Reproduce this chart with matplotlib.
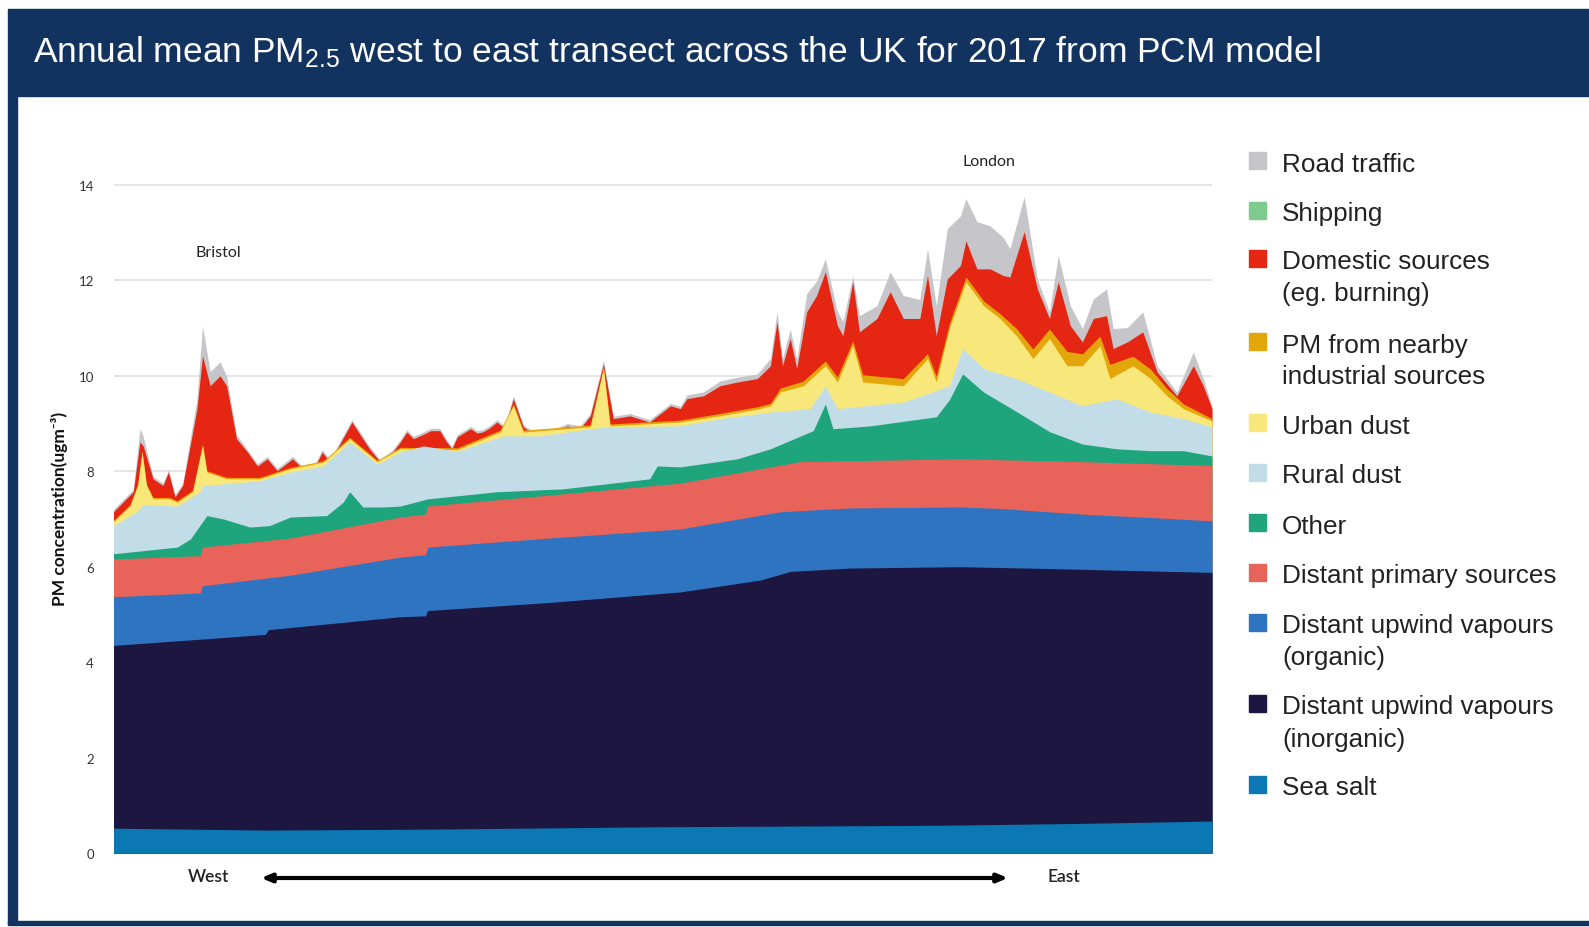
import matplotlib.pyplot as plt
import numpy as np
from matplotlib.patches import Rectangle

plt.rcParams['mathtext.fontset'] = 'custom'
plt.rcParams['mathtext.rm'] = 'Liberation Sans'
plt.rcParams['mathtext.it'] = 'Liberation Sans:italic'
plt.rcParams['mathtext.bf'] = 'Liberation Sans:bold'

# position along the west-east transect (%), and top of each stacked band (ugm-3)
domestic_x = [0, 1.8, 2.4, 2.7, 3.6, 4.5, 5.0, 5.6, 6.3, 7.6, 8.1, 8.8, 9.7, 10.3, 11.2, 12.2, 13.1, 14.0,
              14.9, 16.3, 17.9, 19.0, 19.7, 21.7, 23.3, 24.3, 25.4, 26.1,
              26.7, 27.3, 28.0, 28.9, 29.7, 30.3, 30.8, 31.3, 32.5, 33.1, 33.6, 34.2, 34.9, 35.6, 36.4,
              37.3, 38.1, 38.8, 39.7, 41.3, 42.5, 43.4, 44.6, 45.5, 47.0, 48.8, 50.7, 51.6,
              52.2, 53.7, 55.2, 56.8, 58.6, 59.8, 60.4, 60.9, 61.6, 62.2, 63.1, 64.0, 64.8, 65.9,
              66.4, 67.3, 67.9, 69.5, 70.7, 71.9, 73.4, 74.1, 74.9, 75.9, 77.1,
              77.6, 78.6, 79.8, 81.0, 81.6, 82.9, 84.1, 85.2, 86.0, 87.1, 88.2, 89.2, 90.4, 91.0,
              92.3, 93.7, 95.0, 96.8, 98.3, 99.2, 100]
domestic_top = [7.15, 7.57, 8.61, 8.53, 7.84, 7.7, 7.98, 7.46, 7.7, 9.31, 10.42, 9.79, 10.0, 9.79, 8.68, 8.4,
                8.11, 8.26, 8.01, 8.26, 7.9, 8.4, 8.19, 9.03, 8.47, 8.19, 8.4, 8.61,
                8.82, 8.68, 8.75, 8.85, 8.85, 8.62, 8.47, 8.72, 8.89, 8.8, 8.82, 8.9, 9.03, 8.9, 9.52,
                8.93, 8.8, 8.74, 8.8, 8.95, 8.9, 9.16, 10.25, 9.1, 9.16, 9.03, 9.37, 9.31,
                9.52, 9.58, 9.79, 9.87, 9.94, 10.21, 11.13, 10.21, 10.78, 10.15, 11.34, 11.68, 12.18,
                11.05, 10.84, 11.97, 10.92, 11.2, 11.76, 11.2, 11.2, 12.1, 10.84, 12.03, 12.31,
                12.83, 12.24, 12.24, 12.1, 12.07, 13.02, 11.82, 11.2, 11.97, 11.05, 10.71, 11.2, 11.26,
                10.57, 10.71, 10.92, 10.08, 9.58, 10.21, 9.79, 9.31]
# road traffic thickness on top of domestic sources (same x)
road_traffic = [0.05, 0.05, 0.28, 0.2, 0.05, 0.05, 0.05, 0.05, 0.05, 0.2, 0.63, 0.3, 0.29, 0.2, 0.08, 0.05,
                0.05, 0.05, 0.05, 0.05, 0.05, 0.05, 0.05, 0.05, 0.05, 0.05, 0.05, 0.05,
                0.05, 0.05, 0.05, 0.05, 0.05, 0.05, 0.05, 0.05, 0.05, 0.05, 0.05, 0.05, 0.05, 0.05, 0.06,
                0.05, 0.05, 0.05, 0.05, 0.05, 0.05, 0.05, 0.08, 0.05, 0.05, 0.05, 0.05, 0.05,
                0.08, 0.08, 0.1, 0.1, 0.1, 0.15, 0.21, 0.15, 0.2, 0.2, 0.38, 0.3, 0.27, 0.29, 0.3,
                0.13, 0.34, 0.27, 0.42, 0.48, 0.4, 0.56, 0.63, 1.05, 1.04,
                0.88, 0.99, 0.9, 0.8, 0.59, 0.73, 0.21, 0.14, 0.55, 0.42, 0.28, 0.41, 0.56, 0.42,
                0.3, 0.42, 0.13, 0.08, 0.29, 0.15, 0.06]

urban_x = [0, 1.5, 2.2, 2.6, 3.0, 3.6, 5.1, 5.8, 7.2, 8.1, 8.5, 10.3, 13.3, 16.1, 19.1, 21.5, 24.0, 26.1,
           31.3, 35.2, 36.4, 37.3, 43.4, 44.6, 45.2, 51.6,
           55.2, 58.6, 59.8, 60.7, 62.8, 64.8, 65.9, 67.3, 68.2, 71.9, 74.1, 74.9, 76.1,
           77.6, 79.2, 80.7, 82.2, 83.7, 85.2, 86.8, 88.2, 89.8, 90.7, 92.8, 94.4, 95.9, 97.4, 100]
urban_top = [6.94, 7.27, 7.7, 8.4, 7.7, 7.42, 7.42, 7.35, 7.57, 8.54, 7.98, 7.84, 7.84, 8.05, 8.19, 8.68,
             8.2, 8.47,
             8.45, 8.82, 9.37, 8.82, 8.93, 10.15, 8.95, 9.03,
             9.16, 9.3, 9.37, 9.66, 9.79, 10.21, 9.87, 10.63, 9.87, 9.79, 10.36, 9.87, 11.0,
             11.97, 11.47, 11.2, 10.84, 10.36, 10.78, 10.21, 10.21, 10.63, 9.94, 10.21, 9.94, 9.58,
             9.31, 9.05]
# nearby industrial sources thickness on top of urban dust (same x)
industrial = [0.03, 0.03, 0.03, 0.03, 0.03, 0.03, 0.03, 0.03, 0.03, 0.03, 0.03, 0.03, 0.03, 0.03, 0.03,
              0.03, 0.03, 0.03,
              0.04, 0.04, 0.04, 0.04, 0.04, 0.04, 0.04, 0.04,
              0.05, 0.05, 0.05, 0.08, 0.1, 0.1, 0.1, 0.1, 0.15, 0.15, 0.1, 0.12, 0.1,
              0.1, 0.1, 0.1, 0.15, 0.2, 0.2, 0.3, 0.25, 0.2, 0.3, 0.2, 0.2, 0.15, 0.1, 0.05]

rural_x = [0, 2.1, 2.7, 5.8, 7.9, 8.1, 10.3, 13.3, 16.1, 19.1, 21.5, 24.0, 26.1, 28.2, 31.3, 35.5, 38.8,
           43.4, 45.2, 51.6, 55.2, 59.8, 63.4, 64.8, 65.9, 71.9, 76.1, 77.3, 79.2, 82.2, 85.2, 88.2,
           91.3, 94.4, 97.4, 100]
rural_top = [6.86, 7.15, 7.3, 7.27, 7.57, 7.7, 7.74, 7.8, 7.98, 8.11, 8.61, 8.15, 8.4, 8.53, 8.42, 8.74,
             8.74, 8.89, 8.93, 8.95, 9.1, 9.24, 9.31, 9.79, 9.31, 9.45, 9.79, 10.57, 10.15, 9.94, 9.66,
             9.37, 9.52, 9.24, 9.1, 8.93]

other_x = [0, 5.8, 7.0, 8.5, 10.0, 12.4, 14.2, 16.1, 19.4, 20.9, 21.5, 22.7, 24.5, 26.1, 28.6, 34.9,
           40.9, 48.8, 49.5, 51.6, 56.8, 59.8, 63.7, 64.8, 65.5, 68.9, 74.9, 76.1, 77.3, 79.2, 82.2,
           85.2, 88.2, 91.3, 94.4, 97.4, 100]
other_top = [6.27, 6.41, 6.58, 7.07, 7.0, 6.83, 6.86, 7.04, 7.07, 7.35, 7.57, 7.25, 7.25, 7.27, 7.42,
             7.57, 7.63, 7.84, 8.11, 8.09, 8.26, 8.47, 8.85, 9.41, 8.89, 8.95, 9.14, 9.5, 10.04, 9.66,
             9.25, 8.83, 8.57, 8.47, 8.43, 8.43, 8.32]

primary_x = [0, 7.9, 8.1, 16.1, 26.1, 28.4, 28.6, 39.7, 51.6, 62.5, 77.1, 88.2, 100]
primary_top = [6.16, 6.23, 6.41, 6.6, 7.04, 7.1, 7.27, 7.5, 7.75, 8.2, 8.26, 8.2, 8.12]

organic_x = [0, 7.9, 8.1, 16.1, 26.1, 28.4, 28.6, 39.7, 51.6, 60.7, 67.0, 77.1, 80.7, 88.2, 94.4, 100]
organic_top = [5.37, 5.45, 5.6, 5.82, 6.2, 6.25, 6.41, 6.6, 6.79, 7.15, 7.23, 7.25, 7.22, 7.1, 7.03, 6.96]

inorganic_x = [0, 7.9, 13.8, 14.1, 26.1, 28.4, 28.6, 39.7, 51.6, 58.9, 61.6, 67.0, 77.1, 85.2, 94.4, 100]
inorganic_top = [4.35, 4.48, 4.58, 4.68, 4.95, 4.97, 5.08, 5.25, 5.47, 5.72, 5.9, 5.97, 6.0, 5.96, 5.91,
                 5.88]

sea_salt_x = [0, 14.0, 28.6, 50.0, 75.0, 88.0, 100]
sea_salt_top = [0.52, 0.48, 0.5, 0.55, 0.58, 0.62, 0.67]

legend_labels = ['Road traffic', 'Shipping', 'Domestic sources\n(eg. burning)',
                 'PM from nearby\nindustrial sources', 'Urban dust', 'Rural dust', 'Other',
                 'Distant primary sources', 'Distant upwind vapours\n(organic)',
                 'Distant upwind vapours\n(inorganic)', 'Sea salt']
legend_colors = ['#c6c6ca', '#7fca8f', '#e52612', '#e3a70c', '#f8e77a', '#c3dde8', '#1ea57b',
                 '#e8635a', '#2f74c0', '#1c1640', '#0b78b3']
y_ticks = [0, 2, 4, 6, 8, 10, 12, 14]

W, H = 1589, 928
NAVY = '#12335f'

fig = plt.figure(figsize=(W / 100, H / 100), dpi=100)


def fx(px):
    return px / W


def fy(py):
    return 1 - py / H


# frame: title bar, left border, bottom border
fig.patches.append(Rectangle((fx(8), fy(97)), 1 - fx(8), (97 - 10) / H, transform=fig.transFigure,
                             color=NAVY, zorder=0))
fig.patches.append(Rectangle((fx(8), fy(925)), (17 - 8) / W, (925 - 97) / H, transform=fig.transFigure,
                             color=NAVY, zorder=0))
fig.patches.append(Rectangle((fx(8), fy(926)), 1 - fx(8), 4 / H, transform=fig.transFigure,
                             color=NAVY, zorder=0))

fig.text(fx(33), fy(52), 'Annual mean PM$_{2.5}$ west to east transect across the UK for 2017 from PCM model',
         color='white', fontsize=25.5, family='Liberation Sans', va='center', ha='left')

ax = fig.add_axes([fx(113.5), fy(854), (1212 - 113.5) / W, (854 - 162) / H])

road_top = np.array(domestic_top) + np.array(road_traffic)
industrial_top = np.array(urban_top) + np.array(industrial)

bands = [
    (domestic_x, road_top, legend_colors[0]),
    (domestic_x, domestic_top, legend_colors[2]),
    (urban_x, industrial_top, legend_colors[3]),
    (urban_x, urban_top, legend_colors[4]),
    (rural_x, rural_top, legend_colors[5]),
    (other_x, other_top, legend_colors[6]),
    (primary_x, primary_top, legend_colors[7]),
    (organic_x, organic_top, legend_colors[8]),
    (inorganic_x, inorganic_top, legend_colors[9]),
    (sea_salt_x, sea_salt_top, legend_colors[10]),
]
for i, (x, top, c) in enumerate(bands):
    ax.fill_between(x, 0, top, color=c, lw=0, zorder=2 + i)

ax.set_xlim(0, 100)
ax.set_ylim(0, 14.5)
ax.set_yticks(y_ticks)
ax.set_yticklabels([str(t) for t in y_ticks], family='Lato', fontsize=9.5, color='#333333')
ax.set_xticks([])
ax.tick_params(axis='y', length=0, pad=14)
ax.grid(axis='y', color='#e2e2e2', lw=1.2)
ax.set_axisbelow(True)
for s in ax.spines.values():
    s.set_visible(False)

fig.text(fx(59), fy(509), 'PM concentration(ugm⁻³)', rotation=90, ha='center', va='center',
         fontsize=12.5, fontweight='bold', family=['Lato', 'DejaVu Sans'], color='#111111')

fig.text(fx(218), fy(253), 'Bristol', ha='center', va='center', fontsize=11.5, family='Lato', color='#222222')
fig.text(fx(989), fy(162), 'London', ha='center', va='center', fontsize=11.5, family='Lato', color='#222222')
fig.text(fx(208), fy(877), 'West', ha='center', va='center', fontsize=12.5, family='Lato',
         fontweight='semibold', color='#222222')
fig.text(fx(1064), fy(877), 'East', ha='center', va='center', fontsize=12.5, family='Lato',
         fontweight='semibold', color='#222222')
fig.add_artist(plt.Annotation('', xy=(fx(1008), fy(879)), xytext=(fx(261), fy(879)),
                              xycoords='figure fraction', textcoords='figure fraction',
                              arrowprops=dict(arrowstyle='<|-|>,head_length=0.6,head_width=0.25',
                                              color='black', lw=3, shrinkA=0, shrinkB=0)))

# legend drawn by hand, one line of text at a time
legend_rows = [162, 212, 260, 343, 424, 474, 524, 574, 624, 705, 786]
line_gap = 32
for label, color, row in zip(legend_labels, legend_colors, legend_rows):
    fig.patches.append(Rectangle((fx(1249), fy(row + 8)), 17 / W, 17 / H, transform=fig.transFigure,
                                 color=color))
    for k, line in enumerate(label.split('\n')):
        fig.text(fx(1282), fy(row + 9.5 + k * line_gap), line, ha='left', va='baseline', fontsize=18.8,
                 family='Liberation Sans', color='#222222')

fig.savefig('out.png', dpi=100)
